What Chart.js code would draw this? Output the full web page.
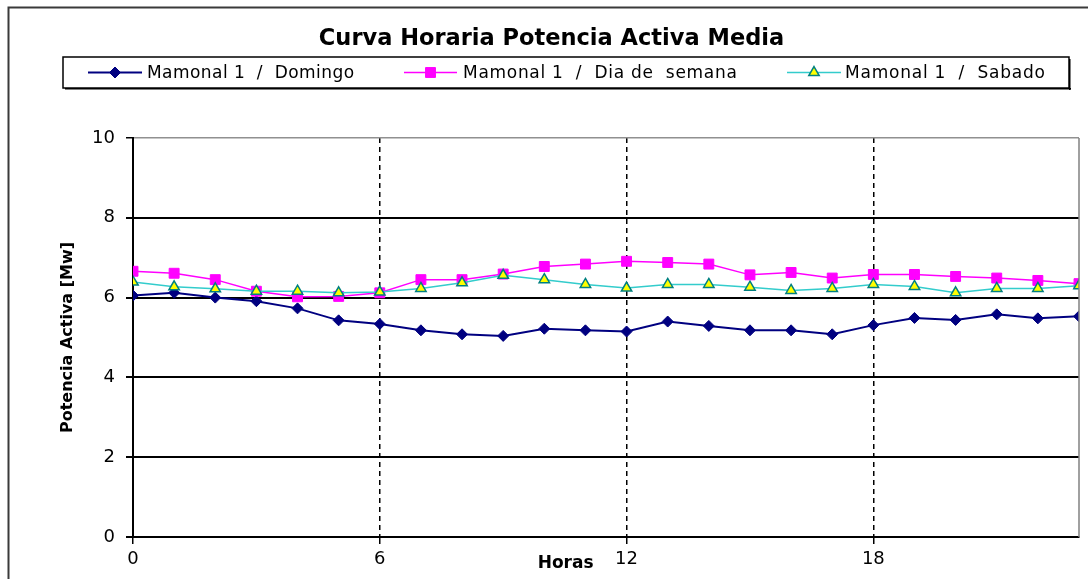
<!DOCTYPE html>
<html>
<head>
<meta charset="utf-8">
<title>Curva Horaria Potencia Activa Media</title>
<script src="https://cdn.jsdelivr.net/npm/chart.js@4.4.1/dist/chart.umd.min.js"></script>
<style>
  html, body { margin: 0; padding: 0; background: #fff; }
  #wrap { width: 1088px; height: 579px; position: relative; }
</style>
</head>
<body>
<div id="wrap"><canvas id="curva"></canvas></div>
<script>
// Horas del día y potencia activa media [MW] por tipo de día
const horas    = [0, 1, 2, 3, 4, 5, 6, 7, 8, 9, 10, 11, 12, 13, 14, 15, 16, 17, 18, 19, 20, 21, 22, 23];
const domingo  = [6.05, 6.12, 6.00, 5.91, 5.73, 5.43, 5.34, 5.18, 5.08, 5.04, 5.22, 5.18,
                  5.15, 5.40, 5.29, 5.18, 5.18, 5.08, 5.31, 5.49, 5.44, 5.58, 5.48, 5.53];
const semana   = [6.66, 6.61, 6.45, 6.16, 6.02, 6.03, 6.12, 6.45, 6.45, 6.59, 6.78, 6.84,
                  6.91, 6.88, 6.84, 6.57, 6.63, 6.49, 6.58, 6.58, 6.53, 6.49, 6.43, 6.35];
const sabado   = [6.39, 6.27, 6.22, 6.16, 6.16, 6.12, 6.14, 6.23, 6.37, 6.56, 6.45, 6.33,
                  6.24, 6.33, 6.33, 6.26, 6.18, 6.23, 6.33, 6.28, 6.12, 6.23, 6.23, 6.30];
const nombres  = ['Mamonal 1  /  Domingo', 'Mamonal 1  /  Dia de  semana', 'Mamonal 1  /  Sabado'];
const yTicks   = [0, 2, 4, 6, 8, 10];
const xTicks   = [0, 6, 12, 18];

const FONT = "'DejaVu Sans', sans-serif";

function pts(vals) {
  return horas.map((h, i) => ({ x: h, y: vals[i] }));
}

// Marco exterior, borde derecho del área, leyenda y rótulo "Horas"
const decorPlugin = {
  id: 'decor',
  beforeDraw(chart) {
    const ctx = chart.ctx;
    ctx.save();
    ctx.fillStyle = '#fff';
    ctx.fillRect(0, 0, chart.width, chart.height);
    ctx.strokeStyle = '#3a3a3a';
    ctx.lineWidth = 2;
    ctx.strokeRect(8.5, 7.5, chart.width + 20, chart.height + 20);
    ctx.restore();
  },
  afterDraw(chart) {
    const ctx = chart.ctx;
    const area = chart.chartArea;
    const xs = chart.scales.x;
    ctx.save();

    // borde derecho gris del área de trazado
    ctx.strokeStyle = '#808080';
    ctx.lineWidth = 1.5;
    ctx.beginPath();
    ctx.moveTo(area.right, area.top);
    ctx.lineTo(area.right, area.bottom);
    ctx.stroke();

    // leyenda
    const box = { left: 63, top: 57, right: 1069, bottom: 88 };
    ctx.fillStyle = '#000';
    ctx.fillRect(box.left + 2, box.bottom, box.right - box.left, 1.5);
    ctx.fillRect(box.right, box.top + 2, 1.5, box.bottom - box.top);
    ctx.strokeStyle = '#000';
    ctx.lineWidth = 1.5;
    ctx.strokeRect(box.left, box.top, box.right - box.left, box.bottom - box.top);

    const items = [
      { x0: 88,  x1: 142, tx: 147, tw: 207 },
      { x0: 404, x1: 457, tx: 463, tw: 274 },
      { x0: 787, x1: 841, tx: 845, tw: 200 }
    ];
    const cy = (box.top + box.bottom) / 2;
    chart.data.datasets.forEach((ds, i) => {
      const it = items[i];
      ctx.strokeStyle = ds.borderColor;
      ctx.lineWidth = ds.borderWidth;
      ctx.beginPath();
      ctx.moveTo(it.x0, cy);
      ctx.lineTo(it.x1, cy);
      ctx.stroke();
      ctx.fillStyle = ds.pointBackgroundColor;
      ctx.strokeStyle = ds.pointBorderColor;
      ctx.lineWidth = ds.pointBorderWidth;
      Chart.helpers.drawPoint(ctx, {
        pointStyle: ds.pointStyle, radius: ds.pointRadius, rotation: 0, borderWidth: ds.pointBorderWidth
      }, (it.x0 + it.x1) / 2, cy);

      ctx.fillStyle = '#000';
      ctx.font = '17px ' + FONT;
      ctx.textBaseline = 'middle';
      ctx.textAlign = 'left';
      ctx.letterSpacing = '0px';
      const w = ctx.measureText(ds.label).width;
      const extra = (it.tw - w) / (ds.label.length - 1);
      ctx.letterSpacing = extra.toFixed(2) + 'px';
      ctx.fillText(ds.label, it.tx, cy + 1);
      ctx.letterSpacing = '0px';
    });

    // rótulo del eje X junto al 12
    ctx.fillStyle = '#000';
    ctx.font = 'bold 17px ' + FONT;
    ctx.textAlign = 'right';
    ctx.textBaseline = 'middle';
    ctx.fillText('Horas', xs.getPixelForValue(12) - 33, 564);
    ctx.restore();
  }
};

new Chart(document.getElementById('curva'), {
  type: 'line',
  data: {
    datasets: [
      { label: nombres[0], data: pts(domingo), borderColor: '#000080', borderWidth: 2,
        pointStyle: 'rectRot', pointRadius: 5.5, pointBackgroundColor: '#000080',
        pointBorderColor: '#000080', pointBorderWidth: 1, tension: 0, order: 3 },
      { label: nombres[1], data: pts(semana), borderColor: '#ff00ff', borderWidth: 1.5,
        pointStyle: 'rect', pointRadius: 7, pointBackgroundColor: '#ff00ff',
        pointBorderColor: '#ff00ff', pointBorderWidth: 1, tension: 0, order: 2 },
      { label: nombres[2], data: pts(sabado), borderColor: '#33cccc', borderWidth: 1.5,
        pointStyle: 'triangle', pointRadius: 6, pointBackgroundColor: '#ffff00',
        pointBorderColor: '#008080', pointBorderWidth: 1.5, tension: 0, order: 1 }
    ]
  },
  options: {
    responsive: true, maintainAspectRatio: false, devicePixelRatio: 1, animation: false,
    layout: { padding: { left: 24, right: 9, top: 0, bottom: 0 } },
    plugins: {
      legend: { display: false },
      tooltip: { enabled: false },
      title: {
        display: true, text: 'Curva Horaria Potencia Activa Media', color: '#000',
        font: { family: FONT, size: 22.5, weight: 'bold', lineHeight: 1.2 },
        padding: { top: 26, bottom: 85 }
      }
    },
    scales: {
      x: {
        type: 'linear', min: 0, max: 23,
        afterBuildTicks: s => { s.ticks = xTicks.map(v => ({ value: v })); },
        afterFit: s => { s.height = 42; },
        ticks: { color: '#000', font: { family: FONT, size: 18 }, padding: 5, includeBounds: false },
        grid: { color: '#000', lineWidth: 1.5, tickLength: 7, tickColor: '#000', tickBorderDash: [] },
        border: { display: true, color: '#000', width: 2, dash: [5, 4] }
      },
      y: {
        min: 0, max: 10,
        afterBuildTicks: s => { s.ticks = yTicks.map(v => ({ value: v })); },
        afterFit: s => { s.width = 109; },
        ticks: { color: '#000', font: { family: FONT, size: 18 }, padding: 11 },
        grid: {
          color: c => (c.tick && c.tick.value === 10) ? '#909090' : '#000',
          lineWidth: c => (c.tick && c.tick.value === 10) ? 1.5 : 2,
          tickLength: 7, tickColor: '#000'
        },
        border: { display: true, color: '#000', width: 2 },
        title: {
          display: true, text: 'Potencia Activa [Mw]', color: '#000',
          font: { family: FONT, size: 16, weight: 'bold', lineHeight: 1.2 },
          padding: { top: 34, bottom: 0 }
        }
      }
    }
  },
  plugins: [decorPlugin]
});
</script>
</body>
</html>
